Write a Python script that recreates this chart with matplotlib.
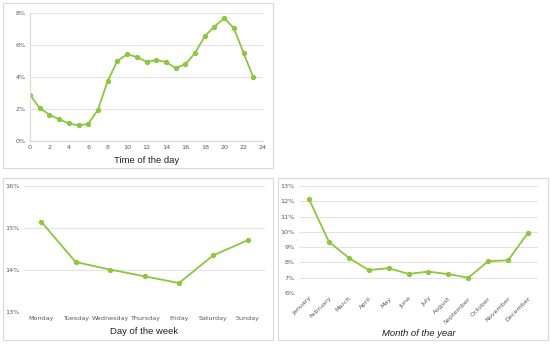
import matplotlib
matplotlib.use("Agg")
import matplotlib.pyplot as plt
from matplotlib.patches import Rectangle
from matplotlib.ticker import FuncFormatter

# data
hours = list(range(24))
hour_pct = [2.9, 2.05, 1.65, 1.35, 1.1, 0.97, 1.08, 1.95, 3.75, 5.0, 5.42, 5.25,
            4.95, 5.05, 4.95, 4.55, 4.8, 5.5, 6.55, 7.15, 7.68, 7.05, 5.5, 3.98]

days = ["Monday", "Tuesday", "Wednesday", "Thursday", "Friday", "Saturday", "Sunday"]
day_pct = [15.15, 14.19, 14.01, 13.85, 13.69, 14.35, 14.71]

months = ["January", "February", "March", "April", "May", "June", "July",
          "August", "September", "October", "November", "December"]
month_pct = [12.15, 9.35, 8.3, 7.5, 7.62, 7.25, 7.4, 7.23, 7.0, 8.08, 8.14, 9.94]

GREEN = "#8DC63F"
GRID = "#E3E3E3"
TICK = "#595959"
W, H = 550, 345

plt.rcParams["font.family"] = ["DejaVu Sans"]

fig = plt.figure(figsize=(W / 100, H / 100), dpi=100)


def px_axes(x0, y0, x1, y1):
    # pixel box (top-left origin) -> figure axes
    return fig.add_axes([x0 / W, 1 - y1 / H, (x1 - x0) / W, (y1 - y0) / H])


def panel(x0, y0, x1, y1):
    fig.patches.append(Rectangle((x0 / W, 1 - y1 / H), (x1 - x0) / W, (y1 - y0) / H,
                                 transform=fig.transFigure, fill=False,
                                 edgecolor="#D9D9D9", linewidth=0.8))


def xlabel_at(ax, text, y_px, y0, y1, **kw):
    ax.set_xlabel(text, fontsize=6.8, family="Liberation Sans", color="#222222", **kw)
    ax.xaxis.set_label_coords(0.5, (y1 - y_px) / (y1 - y0))
    ax.xaxis.label.set_va("center")


pct = FuncFormatter(lambda v, _: f"{v:.0f}%")


def style(ax):
    ax.grid(axis="y", color=GRID, linewidth=0.8)
    ax.set_axisbelow(True)
    for s in ax.spines.values():
        s.set_visible(False)
    ax.tick_params(length=0, labelsize=4.6, colors=TICK, pad=3)
    ax.yaxis.set_major_formatter(pct)


panel(3, 3, 273, 168)
panel(3, 178, 273, 340)
panel(278, 178, 548, 340)

# time of the day
ax1 = px_axes(30, 13, 263, 141)
ax1.plot(hours, hour_pct, color=GREEN, linewidth=1.3, marker="o", markersize=2.8)
ax1.set_xlim(0, 24)
ax1.set_ylim(0, 8)
ax1.set_xticks(range(0, 25, 2))
ax1.set_yticks(range(0, 9, 2))
style(ax1)
for side in ("left", "bottom"):
    ax1.spines[side].set_visible(True)
    ax1.spines[side].set_color("#D9D9D9")
    ax1.spines[side].set_linewidth(0.8)
xlabel_at(ax1, "Time of the day", 160, 13, 141)

# day of the week
ax2 = px_axes(24, 186, 265, 312)
x2 = range(len(days))
ax2.plot(x2, day_pct, color=GREEN, linewidth=1.3, marker="o", markersize=2.8)
ax2.set_xlim(-0.5, len(days) - 0.5)
ax2.set_ylim(13, 16)
ax2.set_xticks(list(x2))
ax2.set_xticklabels(days)
ax2.set_yticks([13, 14, 15, 16])
style(ax2)
xlabel_at(ax2, "Day of the week", 332, 186, 312)

# month of the year
ax3 = px_axes(299, 186, 538, 293)
x3 = range(len(months))
ax3.plot(x3, month_pct, color=GREEN, linewidth=1.3, marker="o", markersize=2.8)
ax3.set_xlim(-0.5, len(months) - 0.5)
ax3.set_ylim(6, 13)
ax3.set_xticks(list(x3))
ax3.set_xticklabels(months, rotation=45, ha="right", rotation_mode="anchor")
ax3.set_yticks(range(6, 14))
style(ax3)
ax3.tick_params(axis="x", labelsize=4.6, pad=2)
xlabel_at(ax3, "Month of the year", 333, 186, 293, style="italic")

fig.savefig("out.png", dpi=100)
